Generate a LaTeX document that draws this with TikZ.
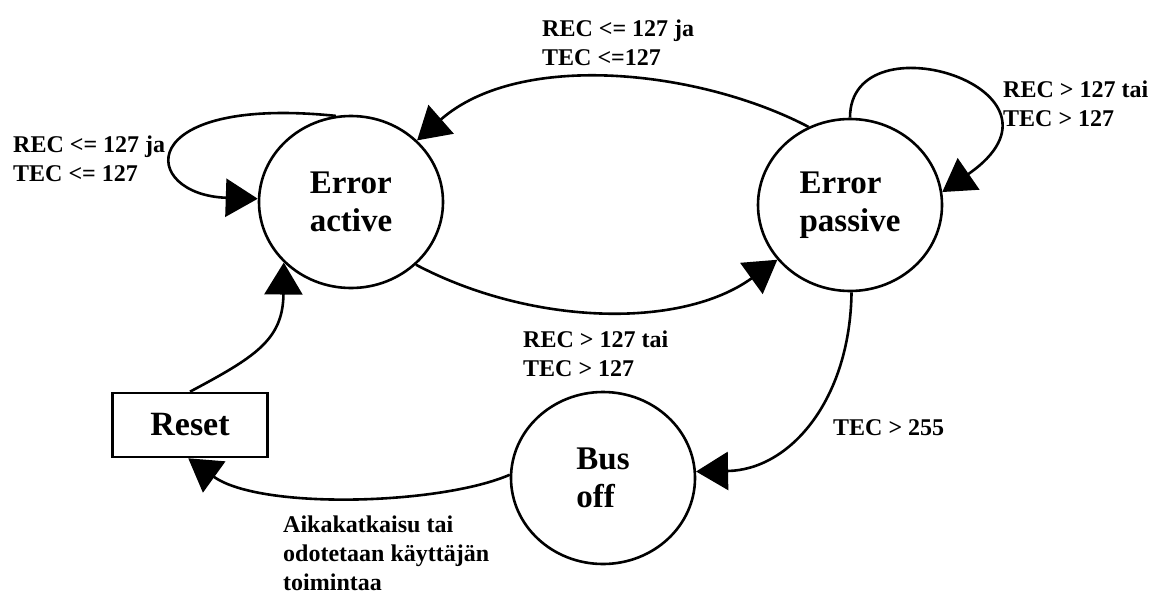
\documentclass[tikz,border=0pt]{standalone}
\usepackage{fontspec}
\setmainfont{Liberation Serif}
\usetikzlibrary{arrows.meta,shapes.geometric}
\begin{document}
\begin{tikzpicture}[x=1pt,y=1pt,
  state/.style={ellipse,draw,line width=2.6pt,minimum width=184pt,minimum height=172pt,
    inner sep=0pt,align=left,font=\bfseries\fontsize{33}{38}\selectfont},
  resetbox/.style={rectangle,draw,line width=2.6pt,minimum width=155pt,minimum height=64pt,
    inner sep=0pt,font=\bfseries\fontsize{34}{38}\selectfont},
  lbl/.style={anchor=west,inner sep=0pt,align=left,font=\bfseries\fontsize{24}{29}\selectfont},
  conn/.style={line width=2.6pt,-{Triangle[length=32pt,width=38pt]}}]
\useasboundingbox (0,0) rectangle (1155,-594);
\fill[white] (0,0) rectangle (1155,-594);

\node[state] (ea) at (351,-202) {Error\\active};
\node[state] (ep) at (850,-205) {Error\\passive};
\node[state] (bo) at (603,-478) {Bus\\off};
\node[resetbox] (rs) at (190,-425) {Reset};

% self loop Error active
\draw[conn] (ea.100) .. controls (130,-95) and (140,-195) .. (ea.178);
% Error passive -> Error active
\draw[conn] (ep.118) .. controls (700,-70) and (520,-50) .. (ea.43);
% self loop Error passive
\draw[conn] (ep.90) .. controls (850,-15) and (1090,-90) .. (ep.8);
% Error active -> Error passive
\draw[conn] (ea.-44) .. controls (530,-325) and (680,-330) .. (ep.-143);
% Error passive -> Bus off
\draw[conn] (ep.-89) .. controls (850,-400) and (790,-470) .. (bo.4);
% Bus off -> Reset
\draw[conn] (bo.178) .. controls (440,-505) and (260,-510) .. (rs.-93);
% Reset -> Error active
\draw[conn] (rs.north) .. controls (255,-357) and (283,-340) .. (ea.-138);

\node[lbl] (l1) at (13,-159) {REC <= 127 ja\\TEC <= 127};
\node[lbl] (l2) at (542,-42.5) {REC <= 127 ja\\TEC <=127};
\node[lbl] (l3) at (1003,-104) {REC > 127 tai\\TEC > 127};
\node[lbl] (l4) at (523,-354) {REC > 127 tai\\TEC > 127};
\node[lbl] (l5) at (833,-428) {TEC > 255};
\node[lbl] (l6) at (283,-553) {Aikakatkaisu tai\\odotetaan käyttäjän\\toimintaa};
\end{tikzpicture}
\end{document}
